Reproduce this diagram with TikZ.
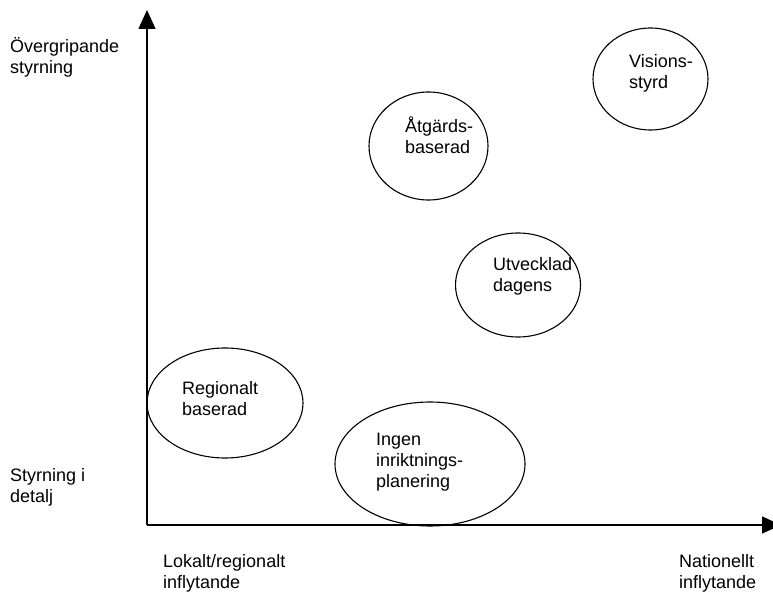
\documentclass[tikz,border=0pt]{standalone}
\usepackage{fontspec}
\setmainfont{Liberation Sans}
\usetikzlibrary{arrows.meta,shapes.geometric}
\begin{document}
\begin{tikzpicture}[x=1pt,y=-1pt,
  axis/.style={line width=1.6pt,-{Triangle[length=19pt,width=17pt]}},
  bubble/.style={draw,line width=1.1pt,ellipse,inner sep=0pt},
  lbl/.style={anchor=north west,inner sep=0pt,align=left,font=\fontsize{18}{21}\selectfont}]
\useasboundingbox (0,0) rectangle (773,593);
\coordinate (o) at (147,525);
\coordinate (ytip) at (147,10);
\coordinate (xtip) at (781,525);
\draw[axis] (o) -- (ytip);
\draw[axis] (o) -- (xtip);
% ellipses
\node[bubble,minimum width=115pt,minimum height=102pt] (vis) at (650.5,79) {};
\node[bubble,minimum width=119pt,minimum height=108pt] (atg) at (428.5,146) {};
\node[bubble,minimum width=125pt,minimum height=104pt] (utv) at (518,285) {};
\node[bubble,minimum width=156pt,minimum height=110pt] (reg) at (225,403) {};
\node[bubble,minimum width=190pt,minimum height=124pt] (ing) at (430,464) {};
% texts
\node[lbl] (tvis) at (629,54) {Visions-\\styrd};
\node[lbl] (tatg) at (405,117) {Åtgärds-\\baserad};
\node[lbl] (tutv) at (493,257) {Utvecklad\\dagens};
\node[lbl] (treg) at (182,381) {Regionalt\\baserad};
\node[lbl] (ting) at (376,433) {Ingen\\inriktnings-\\planering};
\node[lbl] (tover) at (10,37) {Övergripande\\styrning};
\node[lbl] (tdet) at (10,468) {Styrning i\\detalj};
\node[lbl] (tlok) at (163,554) {Lokalt/regionalt\\inflytande};
\node[lbl] (tnat) at (679,554) {Nationellt\\inflytande};
\end{tikzpicture}
\end{document}
